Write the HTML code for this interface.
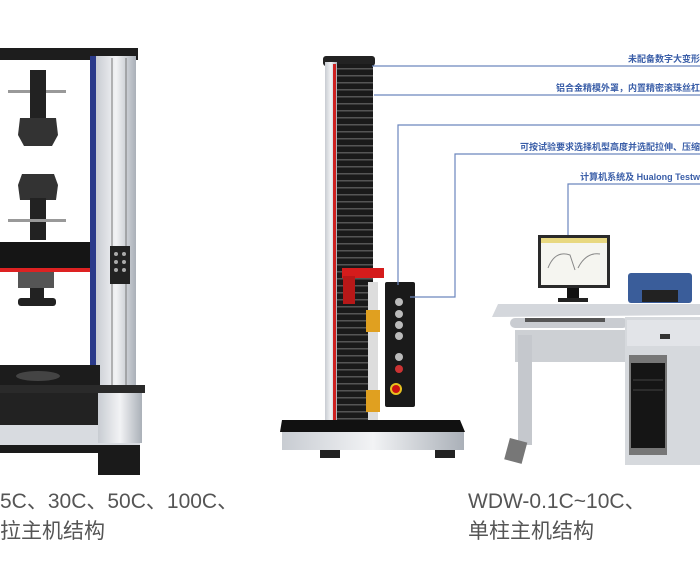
<!DOCTYPE html>
<html><head><meta charset="utf-8"><style>
html,body{margin:0;padding:0;background:#fff;width:700px;height:577px;overflow:hidden}
svg{display:block}
.t{font-family:"Liberation Sans","Noto Sans CJK SC",sans-serif;font-weight:bold;font-size:9px;fill:#3a5ea8}
.b{font-family:"Liberation Sans","Noto Sans CJK SC",sans-serif;font-size:21px;fill:#555}
</style></head><body>
<svg width="700" height="577" viewBox="0 0 700 577">
<defs>
<pattern id="rib" width="10" height="7" patternUnits="userSpaceOnUse"><rect width="10" height="7" fill="#1a1a1a"/><rect y="5" width="10" height="1.5" fill="#555"/></pattern>
<linearGradient id="al" x1="0" x2="1"><stop offset="0" stop-color="#c8ccd2"/><stop offset=".5" stop-color="#f2f3f5"/><stop offset="1" stop-color="#aab0b8"/></linearGradient>
</defs>
<!-- LEFT MACHINE -->
<rect x="0" y="48" width="138" height="12" fill="#1d1d1d"/>
<rect x="90" y="56" width="6" height="332" fill="#2a3a8a"/>
<rect x="96" y="56" width="40" height="332" fill="url(#al)"/>
<line x1="112" y1="58" x2="112" y2="386" stroke="#777"/><line x1="126" y1="58" x2="126" y2="386" stroke="#777"/>
<rect x="110" y="246" width="20" height="38" fill="#222"/>
<g fill="#aaa"><circle cx="116" cy="254" r="2"/><circle cx="124" cy="254" r="2"/><circle cx="116" cy="262" r="2"/><circle cx="124" cy="262" r="2"/><circle cx="116" cy="270" r="2"/><circle cx="124" cy="270" r="2"/></g>
<rect x="8" y="90" width="58" height="3" fill="#999"/>
<rect x="30" y="70" width="16" height="50" fill="#222"/>
<polygon points="20,118 56,118 58,135 52,146 24,146 18,135" fill="#333"/>
<polygon points="22,174 54,174 58,185 56,200 20,200 18,185" fill="#333"/>
<rect x="30" y="198" width="16" height="42" fill="#222"/>
<rect x="8" y="219" width="58" height="3" fill="#999"/>
<rect x="0" y="242" width="90" height="26" fill="#151515"/>
<rect x="0" y="268" width="90" height="4" fill="#d22"/>
<rect x="18" y="272" width="36" height="16" fill="#555"/>
<rect x="30" y="288" width="14" height="12" fill="#222"/>
<rect x="18" y="298" width="38" height="8" rx="3" fill="#222"/>
<rect x="0" y="365" width="100" height="20" fill="#1c1c1c"/>
<ellipse cx="38" cy="376" rx="22" ry="5" fill="#444"/>
<rect x="0" y="385" width="145" height="8" fill="#2a2a2a"/>
<rect x="0" y="393" width="100" height="40" fill="#222"/>
<rect x="0" y="425" width="140" height="20" fill="#d8dbe0"/>
<rect x="98" y="393" width="44" height="50" fill="url(#al)"/>
<rect x="0" y="445" width="140" height="8" fill="#1a1a1a"/>
<rect x="98" y="453" width="42" height="22" fill="#1a1a1a"/>
<!-- MIDDLE MACHINE -->
<rect x="323" y="56" width="52" height="10" rx="3" fill="#222"/>
<rect x="325" y="62" width="12" height="362" fill="url(#al)"/>
<rect x="333" y="64" width="3" height="360" fill="#c22"/>
<rect x="337" y="64" width="36" height="360" fill="url(#rib)"/>
<rect x="342" y="268" width="42" height="10" fill="#d51c1c"/>
<rect x="343" y="276" width="12" height="28" fill="#b71818"/>
<rect x="368" y="282" width="10" height="140" fill="#ddd"/>
<rect x="366" y="310" width="14" height="22" fill="#e0a020"/>
<rect x="366" y="390" width="14" height="22" fill="#e0a020"/>
<rect x="385" y="282" width="30" height="125" rx="2" fill="#1a1a1a"/>
<g fill="#bbb"><circle cx="399" cy="302" r="4"/><circle cx="399" cy="314" r="4"/><circle cx="399" cy="325" r="4"/><circle cx="399" cy="336" r="4"/><circle cx="399" cy="357" r="4"/></g>
<circle cx="399" cy="369" r="4" fill="#c33"/>
<circle cx="396" cy="389" r="6" fill="#e8c020"/><circle cx="396" cy="389" r="4" fill="#c11"/>
<polygon points="282,420 460,420 465,432 280,432" fill="#111"/>
<rect x="282" y="432" width="182" height="18" fill="url(#al)"/>
<rect x="320" y="450" width="20" height="8" fill="#222"/><rect x="435" y="450" width="20" height="8" fill="#222"/>
<g stroke="#6c86bd" stroke-width="1.2" fill="none">
<line x1="372" y1="66" x2="700" y2="66"/>
<line x1="374" y1="95" x2="700" y2="95"/>
<polyline points="398,285 398,125 700,125"/>
<polyline points="410,297 455,297 455,154 700,154"/>
<polyline points="568,235 568,184 700,184"/>
</g>
<text class="t" x="700" y="62" text-anchor="end">未配备数字大变形</text>
<text class="t" x="700" y="91" text-anchor="end">铝合金精模外罩，内置精密滚珠丝杠</text>
<text class="t" x="700" y="150" text-anchor="end">可按试验要求选择机型高度并选配拉伸、压缩</text>
<text class="t" x="700" y="180" text-anchor="end">计算机系统及 Hualong Testw</text>
<!-- DESK -->
<rect x="538" y="235" width="72" height="53" fill="#2a2a2a"/>
<rect x="541" y="238" width="66" height="47" fill="#f5f5f0"/>
<rect x="541" y="238" width="66" height="5" fill="#e8d880"/>
<path d="M548 268 Q555 250 570 255 L575 270 M578 268 Q586 252 600 254" stroke="#888" fill="none"/>
<rect x="567" y="288" width="12" height="10" fill="#111"/><rect x="558" y="298" width="30" height="4" fill="#222"/>
<rect x="628" y="273" width="64" height="30" rx="3" fill="#3a5d9a"/>
<rect x="642" y="290" width="36" height="12" fill="#222"/>
<polygon points="498,304 700,304 700,315 492,317" fill="#d4d7dc"/>
<rect x="510" y="318" width="118" height="10" rx="5" fill="#c9ccd1"/>
<rect x="525" y="318" width="80" height="4" fill="#555"/>
<rect x="515" y="330" width="112" height="32" fill="#cdd0d4"/>
<rect x="518" y="335" width="14" height="110" fill="#c5c8cd"/>
<rect x="507" y="440" width="18" height="22" fill="#777" transform="rotate(15 516 450)"/>
<rect x="625" y="317" width="75" height="148" fill="#d6d9dd"/>
<rect x="627" y="320" width="73" height="26" fill="#e2e4e8"/>
<rect x="660" y="334" width="10" height="5" fill="#333"/>
<rect x="629" y="355" width="38" height="100" fill="#777"/>
<rect x="631" y="363" width="34" height="85" fill="#151515"/>
<line x1="633" y1="380" x2="663" y2="380" stroke="#444"/>
<line x1="633" y1="390" x2="663" y2="390" stroke="#444"/>
<text class="b" x="0" y="508">5C、30C、50C、100C、</text>
<text class="b" x="0" y="538">拉主机结构</text>
<text class="b" x="468" y="508">WDW-0.1C~10C、</text>
<text class="b" x="468" y="538">单柱主机结构</text>
</svg>
</body></html>
